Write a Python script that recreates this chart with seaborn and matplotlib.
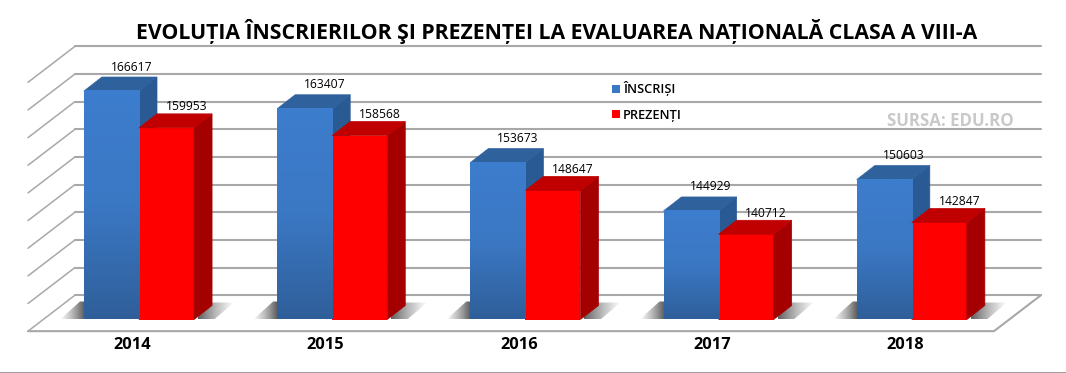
import numpy as np
import pandas as pd
import seaborn as sns
import matplotlib.pyplot as plt
from matplotlib.colors import LinearSegmentedColormap
from matplotlib.patches import Polygon

years = ["2014", "2015", "2016", "2017", "2018"]
inscrisi = [166617, 163407, 153673, 144929, 150603]
prezenti = [159953, 158568, 148647, 140712, 142847]
grid_values = [125000, 130000, 135000, 140000, 145000, 150000, 155000, 160000, 165000, 170000]

W, H = 1066, 373
sns.set_theme(style="white")
plt.rcParams["font.family"] = ["Open Sans", "DejaVu Sans"]

df = pd.DataFrame({"an": years * 2,
                   "serie": ["ÎNSCRIȘI"] * 5 + ["PREZENȚI"] * 5,
                   "val": inscrisi + prezenti})

fig = plt.figure(figsize=(W / 100, H / 100), dpi=100)
fig.patch.set_facecolor("white")

# axes stop at the bar feet, depth stuff below is drawn with clip_on=False
ax = fig.add_axes([0, (H - 319.5) / H, 1, 319.5 / H])
sns.barplot(data=df, x="an", y="val", hue="serie", ax=ax, width=0.57, gap=0,
            palette=["#3a78c6", "#ff0000"], saturation=1, errorbar=None, zorder=5,
            edgecolor="none", linewidth=0)

# pixel scale of the picture
px_x = 1 / 193.2
px_y = 5000 / 27.65
ax.set_xlim(-139 * px_x, (W - 139) * px_x)
ax.set_ylim(125300, 125300 + 319.5 * px_y)
xmin, xmax = ax.get_xlim()
ymin = ax.get_ylim()[0]
sns.despine(ax=ax, left=True, bottom=True)
ax.set_yticks([])
ax.set_xlabel("")
ax.set_ylabel("")
ax.set_xticks(np.arange(len(years)) - 6.5 * px_x)
ax.set_xticklabels(years, fontsize=11.8, fontweight="bold", color="black")
ax.tick_params(axis="x", length=0, pad=12.5)
ax.patch.set_alpha(0)

# walls and floor
back_dx, back_dy = 47, 26
wall_l = xmin + 75 * px_x
wall_r = xmin + 1041 * px_x
gcol = "#a8a8a8"
for g in grid_values:
    ax.plot([wall_l, wall_r], [g + back_dy * px_y] * 2, color=gcol, lw=1.5, zorder=1)
    ax.plot([wall_l, wall_l - back_dx * px_x],
            [g + back_dy * px_y, g + (back_dy - 36) * px_y],
            color=gcol, lw=1.1, zorder=1, clip_on=False)
floor_b = grid_values[0] + (back_dy - 36) * px_y
ax.plot([wall_l - back_dx * px_x, wall_r - back_dx * px_x, wall_r],
        [floor_b, floor_b, grid_values[0] + back_dy * px_y],
        color=gcol, lw=1.5, zorder=1, clip_on=False)
fig.add_artist(plt.Line2D([0, 1], [0.5 / H, 0.5 / H], color="#8c8c8c", lw=1.2))

# bar depth
dx, dy = 18 * px_x, 14 * px_y
blue_grad = LinearSegmentedColormap.from_list("b", ["#3d7dcd", "#3b78c4", "#2f5f9a"])
shade = LinearSegmentedColormap.from_list("s", [(0.4, 0.4, 0.4, 0), (0.4, 0.4, 0.4, 0.45), (0.35, 0.35, 0.35, 0.95)])


def soft_shadow(pts, extent, flip):
    g = np.linspace(0, 1, 64).reshape(1, -1)
    if flip:
        g = g[:, ::-1]
    im = ax.imshow(g, extent=extent, cmap=shade, aspect="auto", zorder=2, vmin=0, vmax=1,
                   interpolation="bilinear")
    im.set_clip_path(Polygon(pts, transform=ax.transData))


bars = ax.containers[0].patches + ax.containers[1].patches
for i, b in enumerate(bars):
    x0, w, top = b.get_x(), b.get_width(), b.get_height()
    x1 = x0 + w
    is_blue = i < 5
    side = "#2a5a94" if is_blue else "#a50000"
    lid = "#2f619c" if is_blue else "#c00000"
    ax.add_patch(Polygon([(x1, ymin), (x1 + dx, ymin + dy), (x1 + dx, top + dy), (x1, top)],
                         fc=side, ec=side, lw=0.5, zorder=4 if is_blue else 6))
    ax.add_patch(Polygon([(x0, top), (x0 + dx, top + dy), (x1 + dx, top + dy), (x1, top)],
                         fc=lid, ec=lid, lw=0.5, zorder=4 if is_blue else 6))
    if is_blue:
        b.set_facecolor("none")
        g = np.linspace(0, 1, 128).reshape(-1, 1)
        ax.imshow(g, extent=[x0, x1, ymin, top], cmap=blue_grad, aspect="auto", zorder=5)
        soft_shadow([(x0 - 24 * px_x, ymin), (x0 - 4 * px_x, ymin + 18 * px_y),
                     (x0 + dx, ymin + 18 * px_y), (x0, ymin)],
                    [x0 - 24 * px_x, x0, ymin, ymin + 18 * px_y], False)
    else:
        soft_shadow([(x1, ymin), (x1 + dx, ymin + 17 * px_y),
                     (x1 + 40 * px_x, ymin + 17 * px_y), (x1 + 20 * px_x, ymin)],
                    [x1 + 4 * px_x, x1 + 40 * px_x, ymin, ymin + 17 * px_y], True)
    ax.text(x0 + w / 2 + 20 * px_x, top + (24 if is_blue else 21) * px_y, str(int(top)), ha="center", va="center",
            fontsize=8.7, fontweight="medium", color="black", zorder=8)

ax.set_xlim(xmin, xmax)
ax.set_ylim(ymin, ymin + 319.5 * px_y)

leg = ax.legend(loc="upper left", bbox_to_anchor=(606 / W, 1 - 75 / 319.5), frameon=False,
                prop={"size": 9.2, "weight": "semibold"}, labelspacing=0.97, handlelength=0.63,
                handleheight=0.63, handletextpad=0.2, borderpad=0, title=None)
leg.set_zorder(9)
for t in leg.get_texts():
    t.set_color("black")

ax.text(950 / W, 1 - 121 / 319.5, "SURSA: EDU.RO", transform=ax.transAxes, ha="center", va="center",
        fontsize=12.2, fontweight="bold", color="#c9c9c9", zorder=9)
fig.text(557 / W, 1 - 31.5 / H, "EVOLUȚIA ÎNSCRIERILOR ŞI PREZENȚEI LA EVALUAREA NAȚIONALĂ CLASA A VIII-A",
         ha="center", va="center", fontsize=15.3, fontweight="bold", color="black")

fig.savefig("out.png", dpi=100)
